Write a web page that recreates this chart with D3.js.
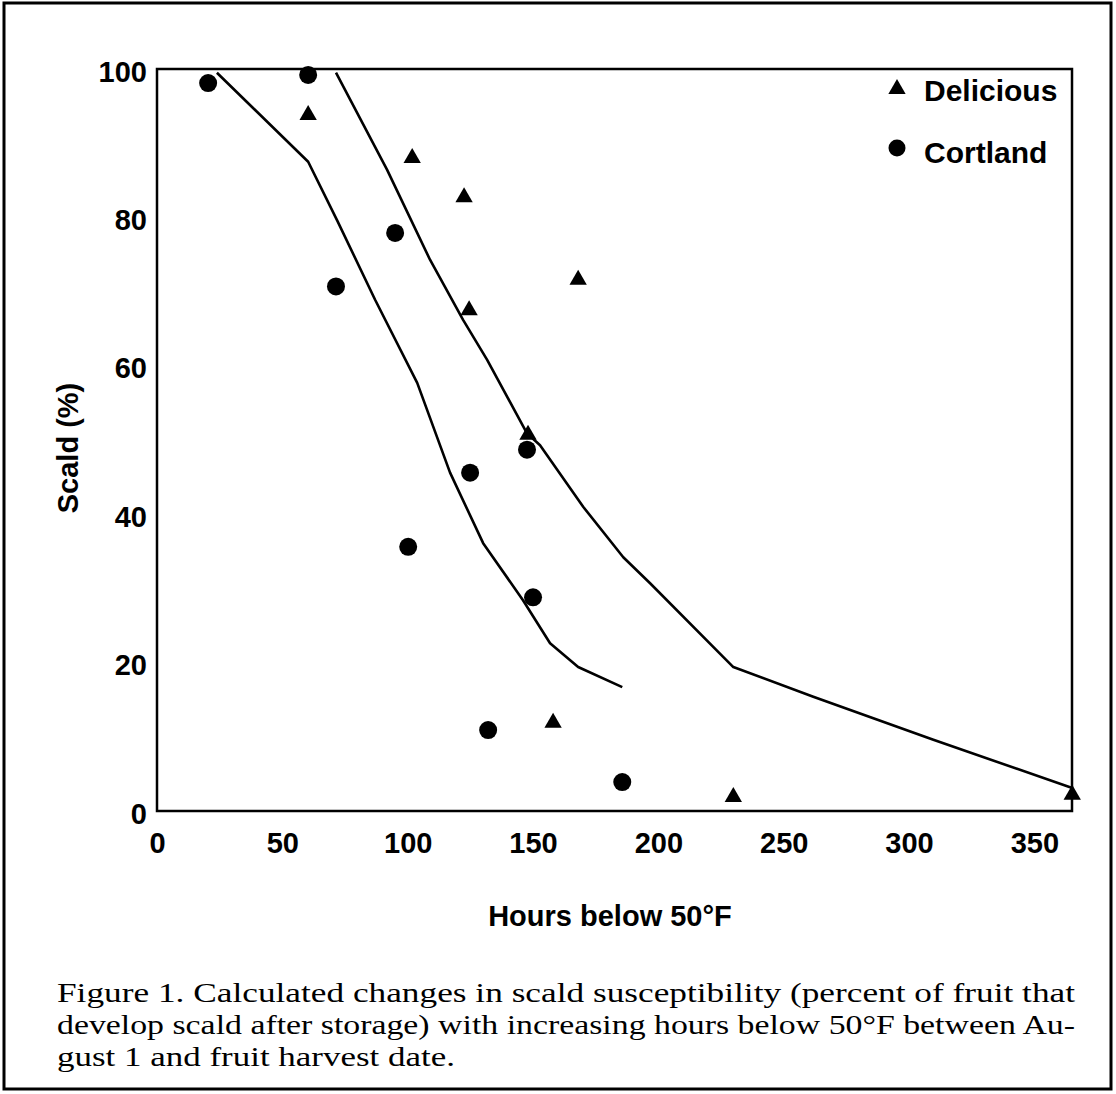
<!DOCTYPE html>
<html>
<head>
<meta charset="utf-8">
<script src="https://cdn.jsdelivr.net/npm/d3@7"></script>
<style>
  html, body { margin: 0; padding: 0; background: #fff; }
  svg { display: block; }
</style>
</head>
<body>
<svg id="chart" width="1116" height="1094"></svg>
<script>
// ---- data ----
const xTicks = [0, 50, 100, 150, 200, 250, 300, 350];
const yTicks = [0, 20, 40, 60, 80, 100];

const deliciousPoints = [
  [60.3, 93.8], [101.8, 88.0], [122.5, 82.7], [168.0, 71.6], [124.5, 67.5],
  [148.0, 50.7], [158.0, 11.9], [229.9, 1.9], [365.1, 2.2]
];
const cortlandPoints = [
  [20.4, 98.1], [60.3, 99.2], [71.4, 70.7], [95.0, 77.9], [100.2, 35.6],
  [124.9, 45.6], [147.6, 48.7], [150.0, 28.8], [132.1, 10.9], [185.6, 3.9]
];
const cortlandCurve = [
  [23.9, 99.5], [60.3, 87.5], [72.0, 79.5], [87.0, 68.9], [103.8, 57.7],
  [116.9, 45.6], [130.1, 36.1], [146.0, 28.4], [156.8, 22.6], [168.0, 19.4],
  [185.6, 16.7]
];
const deliciousCurve = [
  [71.4, 99.5], [91.8, 86.4], [108.9, 74.3], [122.1, 66.2], [131.7, 60.8],
  [147.6, 50.9], [152.8, 49.3], [170.0, 41.0], [186.0, 34.2], [196.7, 30.7],
  [229.9, 19.4], [261.8, 15.4], [309.7, 9.6], [365.1, 3.1]
];
const legendLabels = ["Delicious", "Cortland"];
const xTitle = "Hours below 50\u00B0F";
const yTitle = "Scald (%)";
const captionLines = [
  "Figure 1.  Calculated changes in scald susceptibility (percent of fruit that",
  "develop scald after storage) with increasing hours below 50\u00B0F between Au-",
  "gust 1 and fruit harvest date."
];
const captionWidths = [1018, 1018, 398];

// ---- layout ----
const svg = d3.select("#chart");
const pLeft = 157, pRight = 1072, pTop = 69, pBottom = 811;
const x = d3.scaleLinear().domain([0, 365]).range([pLeft, pRight]);
const y = d3.scaleLinear().domain([0, 100]).range([pBottom, pTop]);
const sans = "'Liberation Sans', Arial, Helvetica, sans-serif";

// outer border
svg.append("rect")
  .attr("x", 4).attr("y", 3).attr("width", 1107).attr("height", 1086)
  .attr("fill", "none").attr("stroke", "#000").attr("stroke-width", 3);

// plot frame
svg.append("rect")
  .attr("x", pLeft).attr("y", pTop).attr("width", pRight - pLeft).attr("height", pBottom - pTop)
  .attr("fill", "none").attr("stroke", "#000").attr("stroke-width", 2.5);

// axes
const xAxis = svg.append("g")
  .attr("transform", `translate(0,${pBottom})`)
  .call(d3.axisBottom(x).tickValues(xTicks).tickSize(0).tickPadding(21).tickFormat(d3.format("d")));
const yAxis = svg.append("g")
  .attr("transform", `translate(${pLeft},0)`)
  .call(d3.axisLeft(y).tickValues(yTicks).tickSize(0).tickPadding(10).tickFormat(d3.format("d")));
[xAxis, yAxis].forEach(g => {
  g.select(".domain").remove();
  g.selectAll("text")
    .attr("font-family", sans).attr("font-size", 29).attr("font-weight", "bold").attr("fill", "#000");
});
yAxis.selectAll("text").attr("dy", "0.42em");

// axis titles
svg.append("text")
  .attr("x", 610).attr("y", 926)
  .attr("text-anchor", "middle")
  .attr("font-family", sans).attr("font-size", 29).attr("font-weight", "bold")
  .text(xTitle);
svg.append("text")
  .attr("transform", `translate(78,448) rotate(-90)`)
  .attr("text-anchor", "middle")
  .attr("font-family", sans).attr("font-size", 29).attr("font-weight", "bold")
  .text(yTitle);

// lines
const line = d3.line().x(d => x(d[0])).y(d => y(d[1]));
[cortlandCurve, deliciousCurve].forEach(c => {
  svg.append("path")
    .attr("d", line(c))
    .attr("fill", "none").attr("stroke", "#000").attr("stroke-width", 2.6)
    .attr("stroke-linejoin", "round");
});

// markers
const tri = d3.symbol().type(d3.symbolTriangle).size(130);
svg.append("g").selectAll("path")
  .data(deliciousPoints).join("path")
  .attr("d", tri)
  .attr("transform", d => `translate(${x(d[0])},${y(d[1])})`)
  .attr("fill", "#000");
svg.append("g").selectAll("circle")
  .data(cortlandPoints).join("circle")
  .attr("cx", d => x(d[0])).attr("cy", d => y(d[1]))
  .attr("r", 9).attr("fill", "#000");

// legend
const legend = svg.append("g");
legend.append("path")
  .attr("d", tri)
  .attr("transform", "translate(897,89)")
  .attr("fill", "#000");
legend.append("circle")
  .attr("cx", 897).attr("cy", 148).attr("r", 8.5).attr("fill", "#000");
legend.selectAll("text")
  .data(legendLabels).join("text")
  .attr("x", 924).attr("y", (d, i) => 101 + i * 62)
  .attr("font-family", sans).attr("font-size", 30).attr("font-weight", "bold")
  .text(d => d);

// caption
const serif = "'Liberation Serif', 'DejaVu Serif', serif";
svg.append("g").selectAll("text")
  .data(captionLines).join("text")
  .attr("x", 57).attr("y", (d, i) => 1002 + i * 32)
  .attr("font-family", serif).attr("font-size", 28)
  .attr("textLength", (d, i) => captionWidths[i])
  .attr("lengthAdjust", "spacingAndGlyphs")
  .text(d => d);
</script>
</body>
</html>
